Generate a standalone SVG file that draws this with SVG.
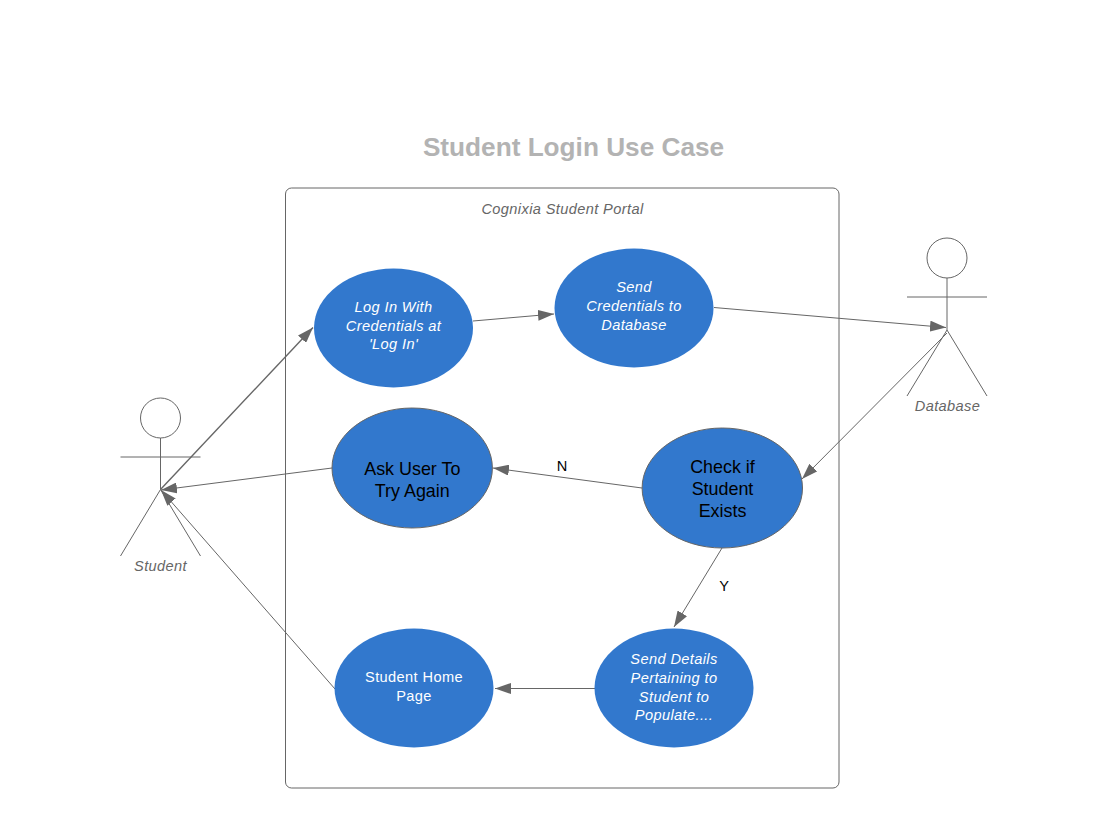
<svg xmlns="http://www.w3.org/2000/svg" width="1107" height="828" viewBox="0 0 1107 828">
<style>
text{font-family:"Liberation Sans",Arial,sans-serif;text-anchor:middle}
.u{fill:#3278cd;stroke:none}
.d{fill:#3278cd;stroke:#666;stroke-width:1}
.w{fill:#fff;font-size:14.6px;letter-spacing:.38px}
.i{font-style:italic}
.k{fill:#000;font-size:17.9px}
.g{fill:#666;font-size:14.6px;font-style:italic;letter-spacing:.38px}
.a{fill:none;stroke:#666;stroke-width:1}
.c{fill:none;stroke:#666;stroke-width:1;marker-end:url(#ah)}
.t{stroke-width:1.4}
</style>
<defs><marker id="ah" markerUnits="userSpaceOnUse" markerWidth="17" markerHeight="11" refX="16" refY="5.5" orient="auto"><path d="M0 0L16 5.500L0 11z" fill="#666"/></marker></defs>
<rect width="1107" height="828" fill="#fff"/>
<text id="title" x="573.500" y="155.800" font-size="26.200" font-weight="700" fill="#b3b3b3">Student Login Use Case</text>
<g id="portal"><rect x="285.500" y="188" width="553.500" height="600" rx="6" fill="#fff" stroke="#666"/><text class="g" x="562.500" y="214">Cognixia Student Portal</text></g>
<g id="connectors">
<path class="c t" d="M160.500 489.500L313 327.500"/>
<path class="c" d="M473 321L554 314"/>
<path class="c" d="M714 307.500L946 327.500"/>
<path class="c" d="M947 333L802 479"/>
<path class="c" d="M642 488L493 468"/>
<path class="c" d="M332 468L161 490"/>
<path class="c" d="M722 548L674 627"/>
<path class="c" d="M595 688.500L495 688.500"/>
<path class="c" d="M335 689L161 490"/>
</g>
<g id="student"><circle class="a" cx="160.500" cy="418" r="20"/><path class="a" d="M160.500 438V489.500M120.500 457H200.500M160.500 489.500L120.500 556M160.500 489.500L200.500 556"/><text class="g" x="160.500" y="571">Student</text></g>
<g id="database"><circle class="a" cx="947" cy="258" r="20"/><path class="a" d="M947 278V330M907 297H987M947 330L907 396M947 330L987 396"/><text class="g" x="947.500" y="411">Database</text></g>
<g id="login"><ellipse class="u" cx="393.500" cy="328" rx="79.500" ry="59.500"/><text class="w i" x="393.500" y="312">Log In With</text><text class="w i" x="393.500" y="331">Credentials at</text><text class="w i" x="393.500" y="349">'Log In'</text></g>
<g id="send-creds"><ellipse class="u" cx="634" cy="308" rx="79.500" ry="59.500"/><text class="w i" x="634" y="292">Send</text><text class="w i" x="634" y="311">Credentials to</text><text class="w i" x="634" y="330">Database</text></g>
<g id="try-again"><ellipse class="d" cx="412.200" cy="468" rx="80.200" ry="60"/><text class="k" x="412.300" y="475">Ask User To</text><text class="k" x="412.300" y="497">Try Again</text></g>
<g id="check"><ellipse class="d" cx="722.300" cy="488" rx="80.200" ry="60"/><text class="k" x="722.500" y="473.200">Check if</text><text class="k" x="722.500" y="495">Student</text><text class="k" x="722.500" y="516.500">Exists</text></g>
<g id="home"><ellipse class="u" cx="414" cy="688" rx="79.500" ry="59.500"/><text class="w" x="414" y="682">Student Home</text><text class="w" x="414" y="701">Page</text></g>
<g id="send-details"><ellipse class="u" cx="674" cy="688" rx="79.500" ry="59.500"/><text class="w i" x="674" y="664">Send Details</text><text class="w i" x="674" y="683">Pertaining to</text><text class="w i" x="674" y="702">Student to</text><text class="w i" x="674" y="720">Populate....</text></g>
<text x="562" y="471" font-size="14.600" fill="#000">N</text>
<text x="724" y="591" font-size="14.600" fill="#000">Y</text>
</svg>
